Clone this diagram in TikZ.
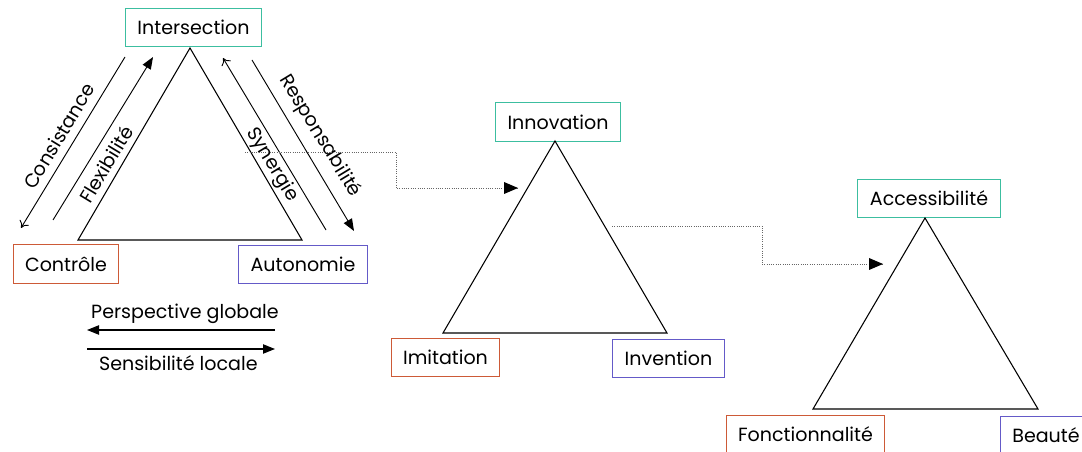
\documentclass[tikz,border=0pt]{standalone}
\usepackage{fontspec}
\setmainfont{Poppins}
\usetikzlibrary{arrows.meta}
\definecolor{haut}{RGB}{60,190,160}
\definecolor{gauche}{RGB}{205,90,55}
\definecolor{droite}{RGB}{100,90,200}
\tikzset{
  pole/.style={draw, line width=0.8pt, minimum height=29pt, inner xsep=9pt,
    font=\fontsize{14.3}{16}\selectfont},
  mot/.style={font=\fontsize{14.3}{16}\selectfont},
  plein/.style={-{Triangle[length=9pt,width=7pt]}},
  ouvert/.style={-{To[length=5pt,width=8pt]}},
  lien/.style={densely dotted, line width=0.7pt, gray!80!black}
}
\begin{document}
\begin{tikzpicture}[x=0.75pt, y=-0.75pt, line width=0.8pt]
  \useasboundingbox (0,0) rectangle (1082,452);
  % les trois poles du premier triangle
  \draw
    (193.5,27.5) node[pole, draw=haut] (inter){Intersection}
    (66,264) node[pole, draw=gauche] (contr){Contrôle}
    (303,264.5) node[pole, draw=droite] (auton){Autonomie};
  \coordinate (a1) at (190,48);
  \coordinate (b1) at (78,240);
  \coordinate (c1) at (302,240);
  \draw (a1) -- (b1) -- (c1) -- cycle;
  % fleches le long des cotes
  \coordinate (cons1) at (125,57);
  \coordinate (cons2) at (21,228);
  \coordinate (flex1) at (53,220);
  \coordinate (flex2) at (153,57);
  \coordinate (syn1) at (326,230);
  \coordinate (syn2) at (223,58);
  \coordinate (resp1) at (252,60);
  \coordinate (resp2) at (354,231);
  \begin{scope}[line width=0.7pt]
    \draw[ouvert] (cons1) to (cons2);
    \draw[plein] (flex1) to (flex2);
    \draw[ouvert] (syn1) to (syn2);
    \draw[plein] (resp1) to (resp2);
  \end{scope}
  \node[mot, rotate=58.7] (lcons) at (59,136) {Consistance};
  \node[mot, rotate=58.7] (lflex) at (106,164) {Flexibilité};
  \node[mot, rotate=-58.7] (lsyn) at (272,165) {Synergie};
  \node[mot, rotate=-58.7] (lresp) at (320,136) {Responsabilité};
  % echelle globale / locale
  \coordinate (glob1) at (275,330);
  \coordinate (glob2) at (87,330);
  \coordinate (loc1) at (87,349);
  \coordinate (loc2) at (275,349);
  \draw[plein] (glob1) to node[mot, above=1pt, xshift=3pt] (lglob){Perspective globale} (glob2);
  \draw[plein] (loc1) to node[mot, below=1pt, xshift=-2pt] (lloc){Sensibilité locale} (loc2);
  % deuxieme triangle
  \draw
    (558,122) node[pole, draw=haut] (innov){Innovation}
    (445.5,357.5) node[pole, draw=gauche] (imit){Imitation}
    (668.5,358.5) node[pole, draw=droite] (inven){Invention};
  \coordinate (a2) at (555,141);
  \coordinate (b2) at (443,333);
  \coordinate (c2) at (667,333);
  \draw (a2) -- (b2) -- (c2) -- cycle;
  % troisieme triangle
  \draw
    (929,198.5) node[pole, draw=haut] (acces){Accessibilité}
    (805.5,434.5) node[pole, draw=gauche] (fonct){Fonctionnalité}
    (1046,435.5) node[pole, draw=droite] (beaut){Beauté};
  \coordinate (a3) at (925,218);
  \coordinate (b3) at (813,409);
  \coordinate (c3) at (1038,409);
  \draw (a3) -- (b3) -- (c3) -- cycle;
  % passages d'un triangle au suivant
  \coordinate (d1) at (245,152);
  \coordinate (e1) at (518,188);
  \coordinate (d2) at (612,226);
  \coordinate (e2) at (883,264);
  \draw[lien] (d1) -- (396,152) |- (e1);
  \fill (e1) -- ++(-14,-6) -- ++(0,12) -- cycle;
  \draw[lien] (d2) -- (762,226) |- (e2);
  \fill (e2) -- ++(-14,-6) -- ++(0,12) -- cycle;
\end{tikzpicture}
\end{document}
